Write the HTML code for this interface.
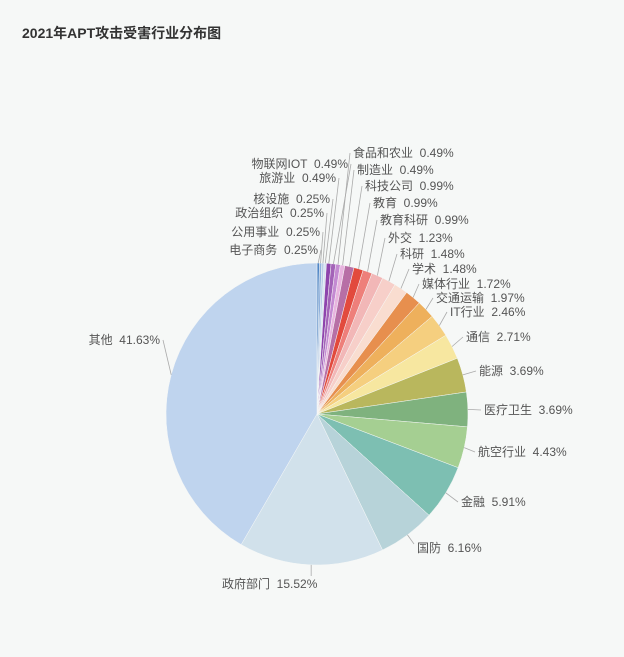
<!DOCTYPE html>
<html><head><meta charset="utf-8"><style>
html,body{margin:0;padding:0;background:#f6f8f7;}
svg{display:block;font-family:"Liberation Sans","Noto Sans CJK SC",sans-serif;}
</style></head><body>
<svg id="s" width="624" height="657" xmlns="http://www.w3.org/2000/svg">
<rect width="624" height="657" fill="#f6f8f7"/>
<text x="22" y="38" font-size="14" font-weight="bold" fill="#333">2021年APT攻击受害行业分布图</text>
</svg>
<script>
var d=[
["电子商务",0.25,"#4f86c6",318,250,"L"],
["公用事业",0.25,"#8fb0dc",320,232,"L"],
["政治组织",0.25,"#b9cde9",324,213,"L"],
["核设施",0.25,"#d6e2f2",330,199,"L"],
["旅游业",0.49,"#8e44ad",336,178,"L"],
["物联网IOT",0.49,"#a363b8",348,164,"L"],
["食品和农业",0.49,"#c48ad2",353,153,"R"],
["制造业",0.49,"#e8b4df",357,170,"R"],
["科技公司",0.99,"#b76fa6",365,186,"R"],
["教育",0.99,"#e24a3d",373,203,"R"],
["教育科研",0.99,"#ee7f7a",380,220,"R"],
["外交",1.23,"#f2b7b7",388,238,"R"],
["科研",1.48,"#f7cfc9",400,254,"R"],
["学术",1.48,"#f9ddd0",412,269,"R"],
["媒体行业",1.72,"#e78f4e",422,284,"R"],
["交通运输",1.97,"#eeb05c",436,298,"R"],
["IT行业",2.46,"#f5cf7f",450,312,"R"],
["通信",2.71,"#f7e7a0",466,337,"R"],
["能源",3.69,"#b9b75d",479,371,"R"],
["医疗卫生",3.69,"#7fb27e",484,410,"R"],
["航空行业",4.43,"#a5cf92",478,452,"R"],
["金融",5.91,"#7dbfb2",461,502,"R"],
["国防",6.16,"#b7d3d9",417,548,"R"],
["政府部门",15.52,"#d1e1eb",222,584,"R"],
["其他",41.63,"#bfd4ee",160,340,"L"]];
var tot=0;d.forEach(function(x){tot+=x[1]});
var cx=317,cy=414,r=151,a=0,s=document.getElementById('s'),h='';
function P(an,rr){return [cx+rr*Math.sin(an),cy-rr*Math.cos(an)];}
d.forEach(function(x){
 var a2=a+x[1]/tot*2*Math.PI,p1=P(a,r),p2=P(a2,r),lg=(a2-a)>Math.PI?1:0;
 h+='<path d="M'+cx+' '+cy+'L'+p1[0]+' '+p1[1]+'A'+r+' '+r+' 0 '+lg+' 1 '+p2[0]+' '+p2[1]+'Z" fill="'+x[2]+'" stroke="#f6f8f7" stroke-width="0.5"/>';
 var m=(a+a2)/2,e=P(m,r),t=x[5]=="R";
 var lx=t?x[3]-3:x[3]+3, ly=x[4];
 var pts=e[0]+','+e[1]+' '+lx+','+ly;
 if(x[0]=="政府部门"){pts=e[0]+','+e[1]+' '+e[0]+','+(ly-8);}
 if(x[0]=="国防"){pts=e[0]+','+e[1]+' '+(x[3]-3)+','+(ly-4);}
 var txt=x[0]+'  '+x[1].toFixed(2)+'%';
 h+='<polyline points="'+pts+'" fill="none" stroke="#aaa" stroke-width="0.8"/>';
 h+='<text x="'+x[3]+'" y="'+(x[4]+4)+'" font-size="12" fill="#555" text-anchor="'+(t?'start':'end')+'" xml:space="preserve">'+txt+'</text>';
 a=a2;});
s.insertAdjacentHTML('beforeend',h);
</script>
</body></html>
